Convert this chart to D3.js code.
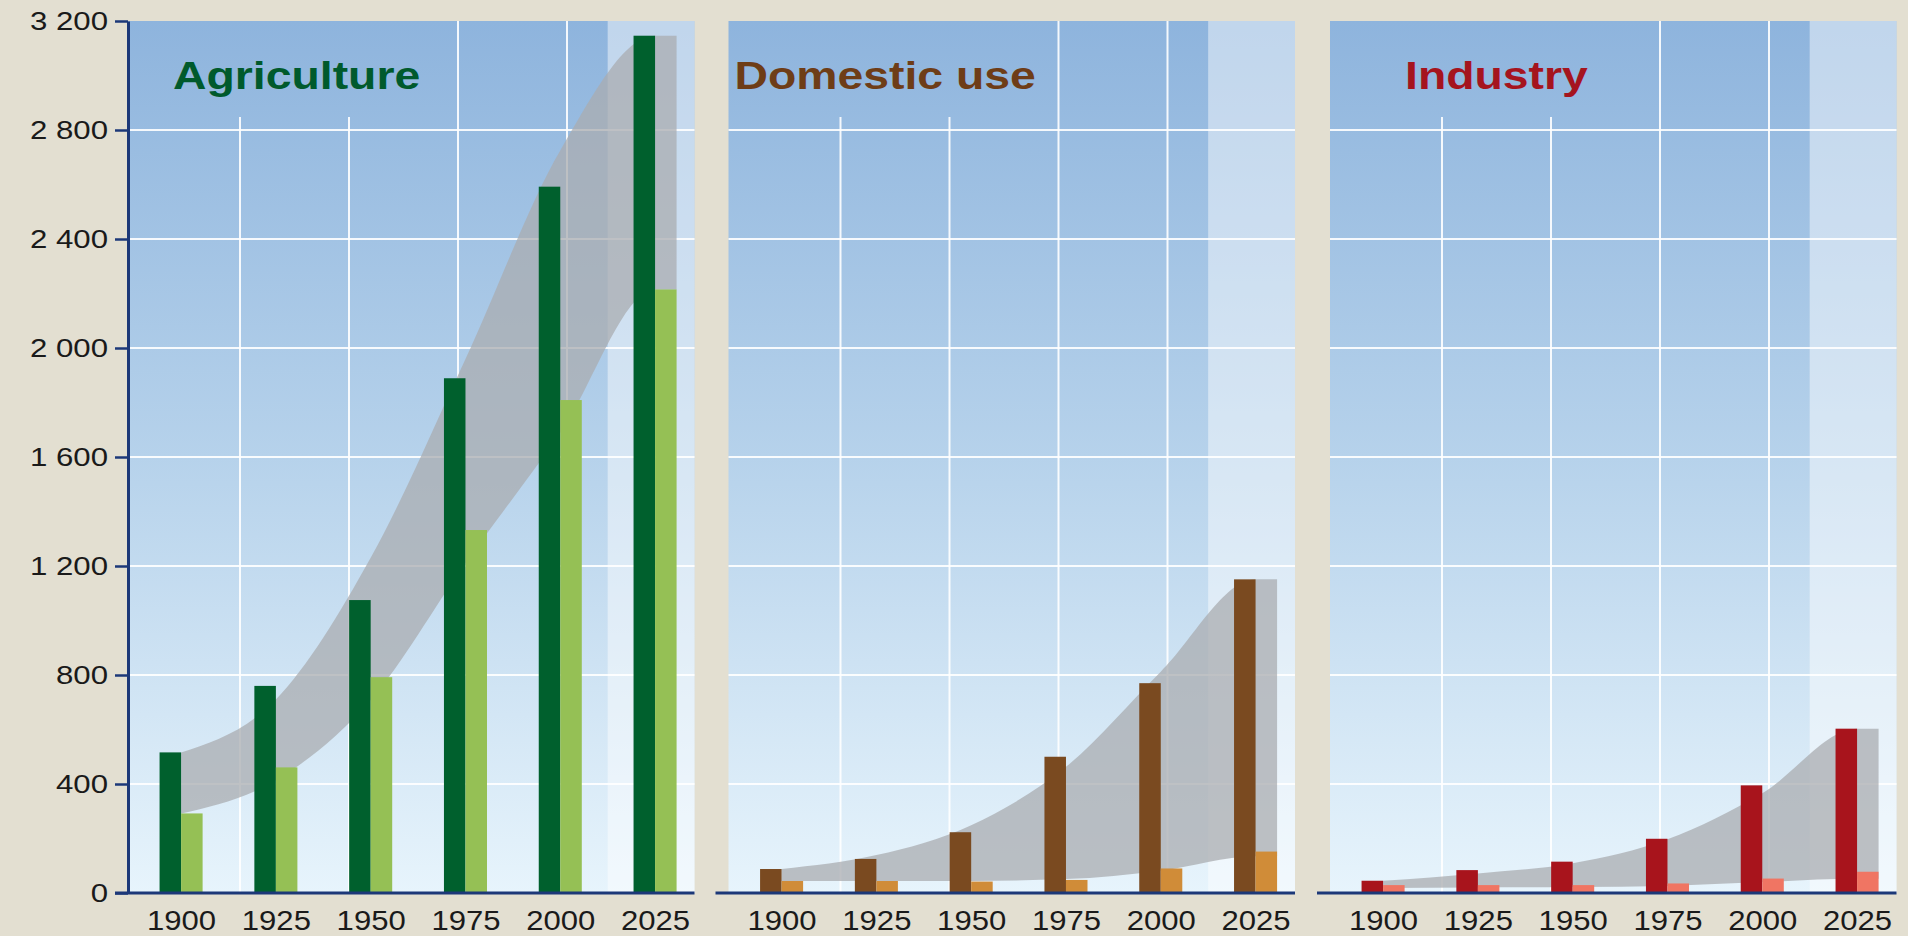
<!DOCTYPE html>
<html>
<head>
<meta charset="utf-8">
<script src="https://cdn.jsdelivr.net/npm/d3@7"></script>
<style>
  html, body { margin: 0; padding: 0; background: #E3DFD1; }
  svg { display: block; }
</style>
</head>
<body>
<svg id="chart" width="1908" height="936"></svg>
<script>
// Water use by sector, km3 per year
const years = [1900, 1925, 1950, 1975, 2000, 2025];
const yTicks = [0, 400, 800, 1200, 1600, 2000, 2400, 2800, 3200];

// withdrawal (dark bars) and consumption (light bars)
const agriWithdrawal = [516, 760, 1075, 1889, 2592, 3146];
const agriConsumption = [292, 461, 792, 1332, 1809, 2215];
const domWithdrawal = [88, 125, 223, 500, 770, 1151];
const domConsumption = [44, 44, 42, 48, 90, 152];
const indWithdrawal = [45, 84, 115, 199, 395, 603];
const indConsumption = [29, 29, 29, 35, 53, 78];

// grey trend ribbon: upper and lower edge at each year
const agriBandHigh = [516, 710, 1230, 1960, 2725, 3146];
const agriBandLow = [292, 414, 708, 1211, 1688, 2215];
const domBandHigh = [88, 139, 249, 463, 812, 1151];
const domBandLow = [44, 44, 44, 51, 82, 135];
const indBandHigh = [45, 72, 109, 197, 366, 603];
const indBandLow = [18, 20, 22, 26, 40, 52];

const panels = [
  { title: "Agriculture", left: 128, titleX: 45, titleColor: "#005A2C",
    dark: "#00602D", light: "#95C055",
    withdrawal: agriWithdrawal, consumption: agriConsumption,
    bandHigh: agriBandHigh, bandLow: agriBandLow, axis: true },
  { title: "Domestic use", left: 728.5, titleX: 6, titleColor: "#6E3D17",
    dark: "#7A4A20", light: "#D08C38",
    withdrawal: domWithdrawal, consumption: domConsumption,
    bandHigh: domBandHigh, bandLow: domBandLow, axis: false },
  { title: "Industry", left: 1330, titleX: 75, titleColor: "#A5141E",
    dark: "#A8141C", light: "#F07563",
    withdrawal: indWithdrawal, consumption: indConsumption,
    bandHigh: indBandHigh, bandLow: indBandLow, axis: false }
];

const W = 1908, H = 936;
const plotTop = 21, plotBottom = 893;
const panelW = 566.5;
const FONT = "'Liberation Sans', Arial, Helvetica, sans-serif";
const NAVY = "#1C3878";

const svg = d3.select("#chart");
svg.append("rect").attr("width", W).attr("height", H).attr("fill", "#E3DFD1");

const defs = svg.append("defs");
const grad = defs.append("linearGradient").attr("id", "sky")
  .attr("x1", 0).attr("y1", 0).attr("x2", 0).attr("y2", 1);
grad.append("stop").attr("offset", 0).attr("stop-color", "#8EB4DD");
grad.append("stop").attr("offset", 0.5).attr("stop-color", "#B6D2EB");
grad.append("stop").attr("offset", 1).attr("stop-color", "#E7F4FC");

const y = d3.scaleLinear().domain([0, 3200]).range([plotBottom, plotTop]);
const x = d3.scaleLinear().domain([1886, 2035.4]).range([0, panelW]);
const step = x(years[1]) - x(years[0]);
const barW = step * 0.227;
const gridStep = y(0) - y(400);

panels.forEach(p => {
  const g = svg.append("g").attr("transform", `translate(${p.left},0)`);

  // sky background
  g.append("rect")
    .attr("x", 0).attr("y", plotTop)
    .attr("width", panelW).attr("height", plotBottom - plotTop)
    .attr("fill", "url(#sky)");

  // projection period, lighter
  const projStart = (x(2000) + x(2025)) / 2;
  g.append("rect")
    .attr("x", projStart).attr("y", plotTop)
    .attr("width", panelW - projStart).attr("height", plotBottom - plotTop)
    .attr("fill", "#ffffff").attr("fill-opacity", 0.45);

  // grid
  const grid = g.append("g").attr("stroke", "#ffffff").attr("stroke-width", 2).attr("stroke-opacity", 0.9);
  grid.selectAll("line.h").data(yTicks.filter(t => t > 0 && t < 3200)).join("line")
    .attr("class", "h")
    .attr("x1", 0).attr("x2", panelW)
    .attr("y1", d => y(d)).attr("y2", d => y(d));
  grid.selectAll("line.v").data([1, 2, 3, 4]).join("line")
    .attr("class", "v")
    .attr("x1", k => 3 + k * gridStep).attr("x2", k => 3 + k * gridStep)
    .attr("y1", k => k <= 2 ? y(2800) - 13 : plotTop)
    .attr("y2", plotBottom);

  // trend ribbon
  const pts = years.map((yr, i) => ({ x: x(yr), hi: p.bandHigh[i], lo: p.bandLow[i] }));
  const last = pts[pts.length - 1];
  pts.push({ x: last.x + barW, hi: last.hi, lo: last.lo });
  const area = d3.area()
    .x(d => d.x).y0(d => y(d.lo)).y1(d => y(d.hi))
    .curve(d3.curveMonotoneX);
  g.append("path").datum(pts)
    .attr("d", area)
    .attr("fill", "rgb(170,172,176)").attr("fill-opacity", 0.75);

  // bars
  g.selectAll("rect.w").data(years).join("rect")
    .attr("class", "w")
    .attr("x", d => x(d) - barW).attr("width", barW)
    .attr("y", (d, i) => y(p.withdrawal[i]))
    .attr("height", (d, i) => y(0) - y(p.withdrawal[i]))
    .attr("fill", p.dark);
  g.selectAll("rect.c").data(years).join("rect")
    .attr("class", "c")
    .attr("x", d => x(d)).attr("width", barW)
    .attr("y", (d, i) => y(p.consumption[i]))
    .attr("height", (d, i) => y(0) - y(p.consumption[i]))
    .attr("fill", p.light);

  // x axis labels
  const xa = g.append("g").attr("transform", `translate(0,${y(0)})`)
    .call(d3.axisBottom(x).tickValues(years).tickSize(0).tickPadding(17).tickFormat(d3.format("d")));
  xa.select(".domain").remove();
  xa.selectAll("text")
    .attr("font-family", FONT).attr("font-size", 28).attr("fill", "#1a1a1a")
    .attr("transform", "scale(1.11,1)");

  // baseline
  g.append("line")
    .attr("x1", -13).attr("x2", panelW)
    .attr("y1", y(0)).attr("y2", y(0))
    .attr("stroke", NAVY).attr("stroke-width", 3);

  // y axis (first panel only)
  if (p.axis) {
    const sx = 1.2;
    const ya = g.append("g")
      .call(d3.axisLeft(y).tickValues(yTicks).tickSize(13).tickSizeOuter(0).tickPadding(8)
        .tickFormat(d => d3.format(",")(d).replace(",", " ")));
    ya.select(".domain").attr("stroke", NAVY).attr("stroke-width", 3);
    ya.selectAll(".tick line").attr("stroke", NAVY).attr("stroke-width", 2.5);
    ya.selectAll(".tick text")
      .attr("font-family", FONT).attr("font-size", 26).attr("fill", "#1a1a1a")
      .attr("x", -20 / sx)
      .attr("transform", `scale(${sx},1)`);
  }

  // panel title
  g.append("text")
    .attr("transform", `translate(${p.titleX},88.5) scale(1.22,1)`)
    .attr("font-family", FONT).attr("font-weight", "bold").attr("font-size", 38)
    .attr("fill", p.titleColor)
    .text(p.title);
});
</script>
</body>
</html>
